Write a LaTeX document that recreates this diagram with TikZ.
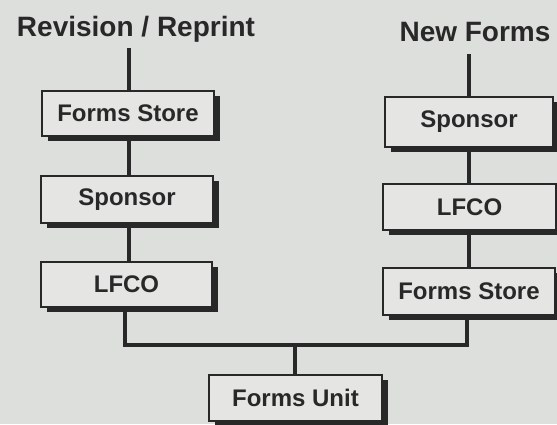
\documentclass[tikz,border=0pt]{standalone}
\usepackage{fontspec}
\setmainfont{Liberation Sans}
\usetikzlibrary{shadows}
\definecolor{bg}{RGB}{221,223,220}
\definecolor{boxfill}{RGB}{229,230,227}
\definecolor{ink}{RGB}{40,40,40}
\begin{document}
\begin{tikzpicture}[x=1pt,y=1pt,
  stepbox/.style={draw=ink, line width=1.3pt, fill=boxfill, inner sep=0pt,
    font=\bfseries\fontsize{24}{26}\selectfont, text=ink,
    general shadow={shadow xshift=6pt, shadow yshift=-5pt, fill=ink}},
  title/.style={font=\bfseries\fontsize{28}{30}\selectfont, text=ink, inner sep=0pt},
  link/.style={draw=ink, line width=4pt}]
\fill[bg] (0,0) rectangle (557,-424);
\useasboundingbox (0,0) rectangle (557,-424);
\node[title] (t1) at (136,-29) {Revision / Reprint};
\node[title] (t2) at (475,-32) {New Forms};
\node[stepbox, minimum width=172pt, minimum height=45pt] (l1) at (128,-113.5) {Forms Store};
\node[stepbox, minimum width=172pt, minimum height=47pt] (l2) at (127,-199.5) {Sponsor};
\node[stepbox, minimum width=171pt, minimum height=45pt] (l3) at (126.5,-284.5) {LFCO};
\node[stepbox, minimum width=168pt, minimum height=50pt] (r1) at (469,-122) {Sponsor};
\node[stepbox, minimum width=173pt, minimum height=46pt] (r2) at (469.5,-207) {LFCO};
\node[stepbox, minimum width=172pt, minimum height=47pt] (r3) at (469,-291.5) {Forms Store};
\node[stepbox, minimum width=173pt, minimum height=46pt] (u) at (295.5,-398) {Forms Unit};
\coordinate (bus) at (295,-345);
\draw[link] ([xshift=1pt]l1.north) -- ++(0,42);
\draw[link] ([xshift=1pt]l1.south) -- ([xshift=2pt]l2.north);
\draw[link] ([xshift=2pt]l2.south) -- ([xshift=2.5pt]l3.north);
\draw[link] (r1.north) -- ++(0,42);
\draw[link] (r1.south) -- ([xshift=-0.5pt]r2.north);
\draw[link] ([xshift=-0.5pt]r2.south) -- (r3.north);
\draw[link] ([xshift=-1.5pt]l3.south) |- (bus) -| ([xshift=-2pt]r3.south);
\draw[link] (bus) -- ([xshift=-0.5pt]u.north);
\end{tikzpicture}
\end{document}
